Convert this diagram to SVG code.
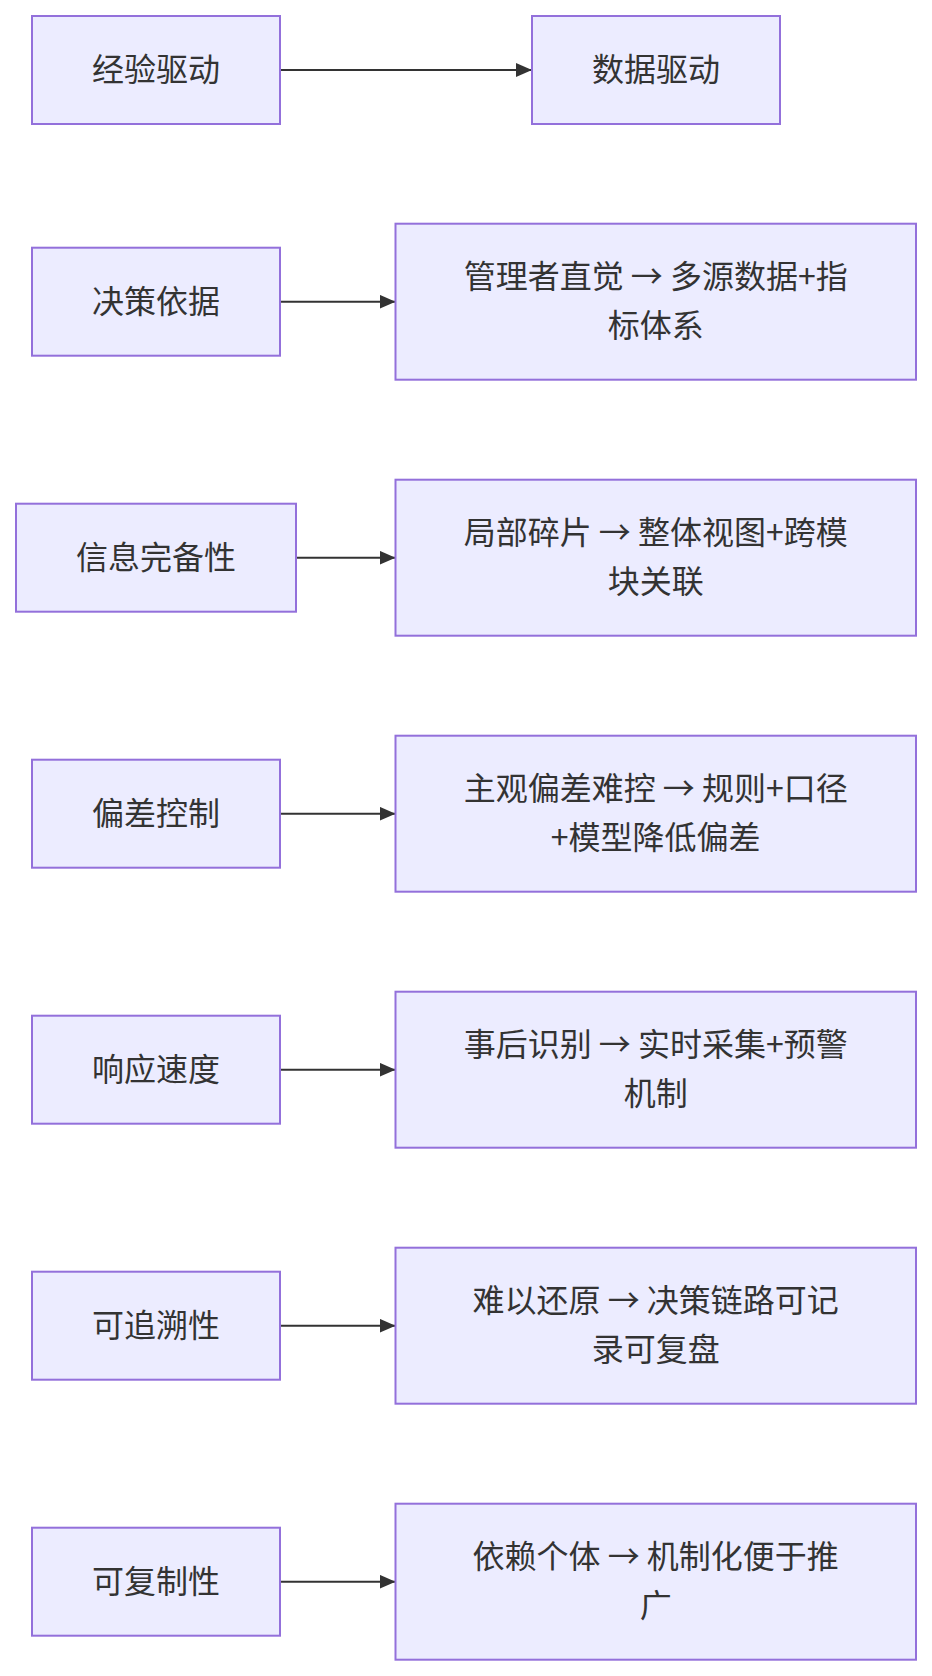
<svg xmlns="http://www.w3.org/2000/svg" width="932" height="1676" viewBox="0 0 932 1676">
<style>
.box{fill:#ECECFF;stroke:#9370DB;stroke-width:2}
.lbl{font-family:"Noto Sans CJK SC","Liberation Sans",sans-serif;font-size:32px;fill:#333;text-anchor:middle;dominant-baseline:central}
.edge{stroke:#333;stroke-width:2;fill:none}
</style>
<defs>
<marker id="arr" viewBox="0 0 10 10" refX="10" refY="5" markerWidth="16" markerHeight="14" markerUnits="userSpaceOnUse" orient="auto" preserveAspectRatio="none">
<path d="M0,0 L10,5 L0,10 z" fill="#333"/>
</marker>
</defs>
<rect width="932" height="1676" fill="#fff"/>
<g id="connectors">
<path class="edge" d="M280,70 L532,70" marker-end="url(#arr)"/>
<path class="edge" d="M280,301.7 L395.5,301.7" marker-end="url(#arr)"/>
<path class="edge" d="M296,557.7 L395.5,557.7" marker-end="url(#arr)"/>
<path class="edge" d="M280,813.7 L395.5,813.7" marker-end="url(#arr)"/>
<path class="edge" d="M280,1069.7 L395.5,1069.7" marker-end="url(#arr)"/>
<path class="edge" d="M280,1325.7 L395.5,1325.7" marker-end="url(#arr)"/>
<path class="edge" d="M280,1581.7 L395.5,1581.7" marker-end="url(#arr)"/>
</g>
<g id="n_exp"><rect class="box" x="32" y="16" width="248" height="108"/><text class="lbl" x="156" y="67">经验驱动</text></g>
<g id="n_data"><rect class="box" x="532" y="16" width="248" height="108"/><text class="lbl" x="656" y="67">数据驱动</text></g>

<g id="n_basis"><rect class="box" x="32" y="247.7" width="248" height="108"/><text class="lbl" x="156" y="298.7">决策依据</text></g>
<g id="n_basis_r"><rect class="box" x="395.5" y="223.7" width="520.5" height="156"/><text class="lbl" x="655.7" y="274.2">管理者直觉 → 多源数据+指</text><text class="lbl" x="655.7" y="323.2">标体系</text></g>

<g id="n_info"><rect class="box" x="16" y="503.7" width="280" height="108"/><text class="lbl" x="156" y="554.7">信息完备性</text></g>
<g id="n_info_r"><rect class="box" x="395.5" y="479.7" width="520.5" height="156"/><text class="lbl" x="655.7" y="530.2">局部碎片 → 整体视图+跨模</text><text class="lbl" x="655.7" y="579.2">块关联</text></g>

<g id="n_bias"><rect class="box" x="32" y="759.7" width="248" height="108"/><text class="lbl" x="156" y="810.7">偏差控制</text></g>
<g id="n_bias_r"><rect class="box" x="395.5" y="735.7" width="520.5" height="156"/><text class="lbl" x="655.7" y="786.2">主观偏差难控 → 规则+口径</text><text class="lbl" x="655.7" y="835.2">+模型降低偏差</text></g>

<g id="n_speed"><rect class="box" x="32" y="1015.7" width="248" height="108"/><text class="lbl" x="156" y="1066.7">响应速度</text></g>
<g id="n_speed_r"><rect class="box" x="395.5" y="991.7" width="520.5" height="156"/><text class="lbl" x="655.7" y="1042.2">事后识别 → 实时采集+预警</text><text class="lbl" x="655.7" y="1091.2">机制</text></g>

<g id="n_trace"><rect class="box" x="32" y="1271.7" width="248" height="108"/><text class="lbl" x="156" y="1322.7">可追溯性</text></g>
<g id="n_trace_r"><rect class="box" x="395.5" y="1247.7" width="520.5" height="156"/><text class="lbl" x="655.7" y="1298.2">难以还原 → 决策链路可记</text><text class="lbl" x="655.7" y="1347.2">录可复盘</text></g>

<g id="n_repl"><rect class="box" x="32" y="1527.7" width="248" height="108"/><text class="lbl" x="156" y="1578.7">可复制性</text></g>
<g id="n_repl_r"><rect class="box" x="395.5" y="1503.7" width="520.5" height="156"/><text class="lbl" x="655.7" y="1554.2">依赖个体 → 机制化便于推</text><text class="lbl" x="655.7" y="1603.2">广</text></g>
</svg>
